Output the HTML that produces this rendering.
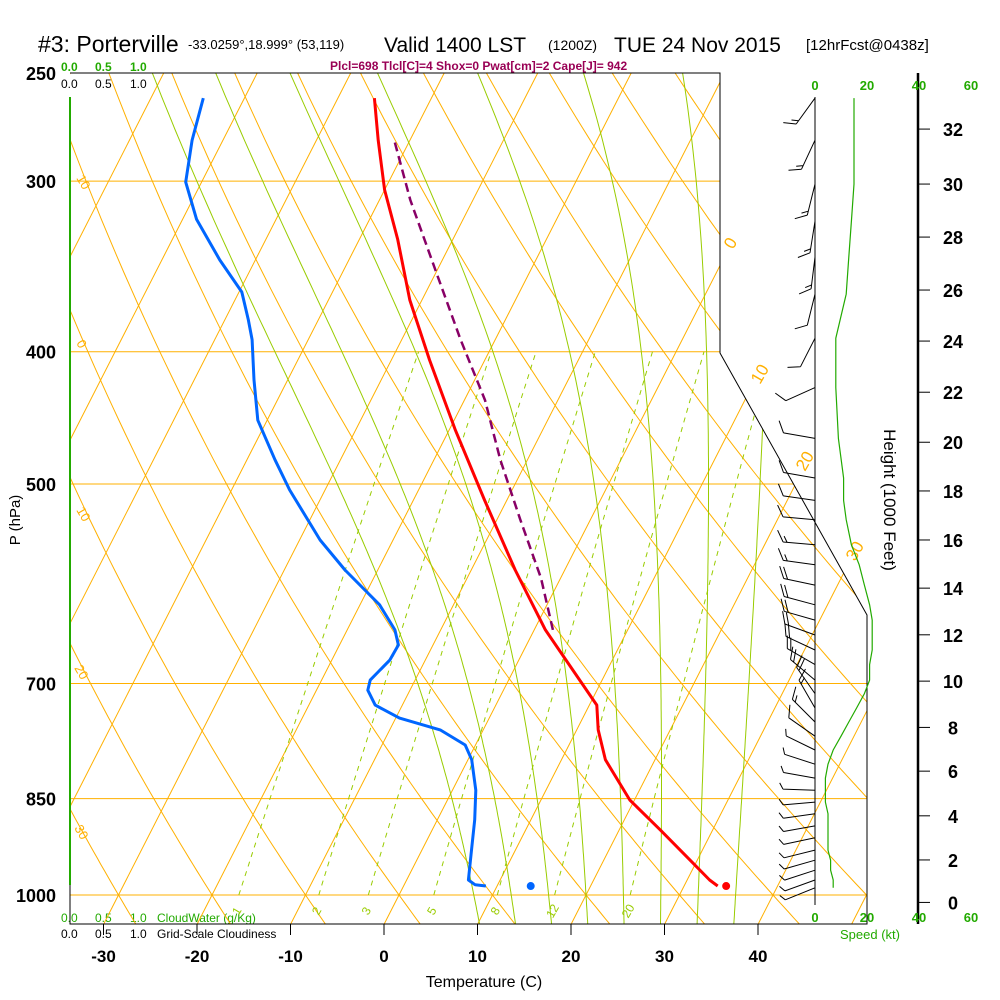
<!DOCTYPE html>
<html><head><meta charset="utf-8"><style>
html,body{margin:0;padding:0;background:#fff;}
svg{display:block;font-family:"Liberation Sans",sans-serif;}
</style></head><body>
<svg id="chart" width="1000" height="1000" viewBox="0 0 1000 1000" xmlns="http://www.w3.org/2000/svg">
<defs><clipPath id="plotclip"><polygon points="70,73 720,73 720,353 867,615 867,924 70,924"/></clipPath></defs>
<g>
<text x="38" y="52" font-size="23" fill="#000">#3: Porterville</text>
<text x="188" y="49" font-size="13" fill="#000">-33.0259°,18.999° (53,119)</text>
<text x="384" y="52" font-size="21" fill="#000">Valid 1400 LST</text>
<text x="548" y="50" font-size="14" fill="#000">(1200Z)</text>
<text x="614" y="52" font-size="21" fill="#000">TUE 24 Nov 2015</text>
<text x="806" y="50" font-size="15" fill="#000">[12hrFcst@0438z]</text>
<text x="330" y="70" font-size="12" font-weight="bold" fill="#990055">Plcl=698 Tlcl[C]=4 Shox=0 Pwat[cm]=2 Cape[J]= 942</text>
</g>
<g font-size="12">
<text x="61" y="71" fill="#22aa00" font-weight="bold">0.0</text>
<text x="95" y="71" fill="#22aa00" font-weight="bold">0.5</text>
<text x="130" y="71" fill="#22aa00" font-weight="bold">1.0</text>
<text x="61" y="88" fill="#000">0.0</text>
<text x="95" y="88" fill="#000">0.5</text>
<text x="130" y="88" fill="#000">1.0</text>
<text x="61" y="922" fill="#22aa00">0.0</text>
<text x="95" y="922" fill="#22aa00">0.5</text>
<text x="130" y="922" fill="#22aa00">1.0</text>
<text x="157" y="922" fill="#22aa00">CloudWater (g/Kg)</text>
<text x="61" y="938" fill="#000">0.0</text>
<text x="95" y="938" fill="#000">0.5</text>
<text x="130" y="938" fill="#000">1.0</text>
<text x="157" y="938" fill="#000">Grid-Scale Cloudiness</text>
</g>
<g id="bg" clip-path="url(#plotclip)"></g>
<g id="frame"></g>
<g id="axes"></g>
<g id="series"></g>
<g id="wind"></g>
<text x="0" y="0" font-size="15" transform="translate(20,520) rotate(-90)" text-anchor="middle">P (hPa)</text>
<text x="0" y="0" font-size="17" transform="translate(884,500) rotate(90)" text-anchor="middle">Height (1000 Feet)</text>
<text x="484" y="987" font-size="16" text-anchor="middle">Temperature (C)</text>
</svg>
<script>
// ---- data ----
const pressureTicks=[250,300,400,500,700,850,1000];
const tempTicks=[-30,-20,-10,0,10,20,30,40];
const tempP=[260.8,280,304.5,331,366.6,405.7,456,513.7,578,639.5,696,726,757,796,852,896,942.6,975,985];
const tempC=[-46.1,-43.4,-40.0,-35.9,-31.3,-25.9,-19.4,-12.4,-5.3,1.2,7.6,10.8,12.3,14.7,19.5,24.4,29.2,32.4,33.6];
const dewP=[260.8,280,300.5,320,342.7,361.7,379,392,419.5,449,480,505,549.5,578,613,639.5,656,673,686.5,696,708,726,742,757,776.5,796,838,881,927,975,983,985];
const dewC=[-64.4,-63.3,-61.7,-58.5,-53.8,-49.7,-47.5,-46.0,-43.6,-41.0,-37.0,-33.8,-27.8,-23.5,-17.9,-14.9,-13.7,-13.8,-14.4,-14.8,-14.5,-12.9,-9.6,-4.6,-1.1,0.4,2.5,4.0,5.3,6.6,7.6,8.8];
const parcelP=[639.5,586,531,480,434,392,348.5,309.7,281];
const parcelC=[2.0,-2.1,-7.5,-12.9,-17.8,-23.7,-30.2,-36.7,-41.5];
const sfcP=[985];
const sfcTemp=[34.5];
const sfcDew=[13.6];
const mixRatios=[1,2,3,5,8,12,20];
const moistStarts=[8,12,16,20,24,28,32,36];
const heightTicks=[0,2,4,6,8,10,12,14,16,18,20,22,24,26,28,30,32];
const heightP=[1012.6,942.6,875,811.5,753.8,697.2,644.8,596,549.5,505.9,466,428.3,392.9,360.5,329.7,301.5,274.8];
const windP=[260.8,280,301.5,321,341,363,391,425,463,495,514,531,554,573,593,613,629,645,661.5,678,696,712,729.5,747,765,783,802,821,838,855,872,890,908,927,943,959,975,988];
const windDir=[216,205,194,189,187,194,207,246,280,280,278,275,275,278,282,285,286,290,295,300,310,325,330,315,305,296,288,280,272,265,262,260,258,256,254,252,250,248];
const windSpd=[15,15,15,14,13,12,8,8,9,11,11,12,14,17,19,21,22,22,22,21,21,19,16,13,10,7,5,4,4,4,5,5,5,5,6,6,7,7];
const speedTicks=[0,20,40,60];

// ---- axes functions ----
const NS='http://www.w3.org/2000/svg';
function yP(p){return 73+822*Math.log(p/250)/Math.log(4);}
function xT(t,p){return 399+9.35*t+0.51*(895-yP(p));}
function xS(s){return 815+s*2.6;}
function mk(tag,attrs,parent){const e=document.createElementNS(NS,tag);for(const k in attrs)e.setAttribute(k,attrs[k]);parent.appendChild(e);return e;}
const bg=document.getElementById('bg'),frame=document.getElementById('frame'),axes=document.getElementById('axes'),series=document.getElementById('series'),wind=document.getElementById('wind');
const OR='#ffb000',GR='#99cc00';

pressureTicks.forEach(p=>{
  const l=mk('line',{x1:70,x2:867,y1:yP(p),y2:yP(p),stroke:OR,'stroke-width':1},bg);
  
  
});
for(let t=-130;t<=60;t+=10){
  const yb=924,yt=73;
  const x1=399+9.35*t+0.51*(895-yb),x2=399+9.35*t+0.51*(895-yt);
  const l=mk('line',{x1:x1,y1:yb,x2:x2,y2:yt,stroke:OR,'stroke-width':1},bg);
  
  
}
for(let th=-30;th<=220;th+=10){
  let pts=[];
  for(let p=1060;p>=245;p-=10){const t=(th+273.15)*Math.pow(p/1000,0.2857)-273.15;pts.push(xT(t,p).toFixed(1)+','+yP(p).toFixed(1));}
  const l=mk('polyline',{points:pts.join(' '),fill:'none',stroke:OR,'stroke-width':1},bg);
  
  
}
function esat(T){return 6.112*Math.exp(17.67*(T-273.15)/(T-29.65));}
function dTdp(T,p){const es=esat(T),rs=0.622*es/(p-es);return (287*T+2.5e6*rs)/(1005+2.5e6*2.5e6*rs*0.622/(287*T*T))/p;}
moistStarts.forEach(t0=>{
  let T=t0+273.15,p=1000,low=[];
  while(p<1060){T+=dTdp(T,p)*5;p+=5;low.push(xT(T-273.15,p).toFixed(1)+','+yP(p).toFixed(1));}
  low.reverse();
  T=t0+273.15;p=1000;let pts=[];
  while(p>=245){pts.push(xT(T-273.15,p).toFixed(1)+','+yP(p).toFixed(1));T-=dTdp(T,p)*5;p-=5;}
  const l=mk('polyline',{points:low.concat(pts).join(' '),fill:'none',stroke:GR,'stroke-width':1},bg);
  
  
});
mixRatios.forEach(w=>{
  let pts=[];
  for(let p=1000;p>=400;p-=10){const e=w*p/(622+w);const L=Math.log(e/6.112);const td=243.5*L/(17.67-L);pts.push(xT(td,p).toFixed(1)+','+yP(p).toFixed(1));}
  const l=mk('polyline',{points:pts.join(' '),fill:'none',stroke:GR,'stroke-width':1,'stroke-dasharray':'5,5'},bg);
  
  
  const e=w*1000/(622+w),L=Math.log(e/6.112),td=243.5*L/(17.67-L);
  const tx=mk('text',{x:xT(td,1000)-2,y:915,'font-size':12,fill:GR,'text-anchor':'middle',transform:'rotate(-60 '+(xT(td,1000)-2)+' 911)'},axes);
  tx.textContent=w;
  
  
});
[[733,250,'0'],[760,385,'10'],[805,472,'20'],[855,562,'30']].forEach(a=>{
  const t=mk('text',{x:a[0],y:a[1],'font-size':17,fill:OR,transform:'rotate(-60 '+a[0]+' '+a[1]+')'},axes);t.textContent=a[2];
  
  
});
[[76,178,'10'],[76,343,'0'],[76,510,'10'],[74,668,'20'],[74,828,'30']].forEach(a=>{
  const t=mk('text',{x:a[0],y:a[1],'font-size':13,fill:OR,transform:'rotate(60 '+a[0]+' '+a[1]+')'},axes);t.textContent=a[2];
  
  
});
const fr=mk('polyline',{points:'70,73 720,73 720,353 867,615 867,924 70,924 70,885',fill:'none',stroke:'#000','stroke-width':1},frame);


const cw=mk('line',{x1:70,y1:97,x2:70,y2:885,stroke:'#22aa00','stroke-width':2},frame);


pressureTicks.forEach(p=>{
  const t=mk('text',{x:56,y:yP(p)+7,'font-size':18,'font-weight':'bold','text-anchor':'end',fill:'#000'},axes);t.textContent=p;
  
  
});
tempTicks.forEach(tc=>{
  const x=384+9.35*tc;
  const l=mk('line',{x1:x,x2:x,y1:924,y2:935,stroke:'#000'},axes);
  
  
  const t=mk('text',{x:x,y:962,'font-size':17,'font-weight':'bold','text-anchor':'middle'},axes);t.textContent=tc;
  
  
});
function line(P,C,attrs,name){
  const pts=P.map((p,i)=>xT(C[i],p).toFixed(1)+','+yP(p).toFixed(1)).join(' ');
  const l=mk('polyline',Object.assign({points:pts,fill:'none','stroke-linejoin':'round'},attrs),series);
  
  
}
line(parcelP,parcelC,{stroke:'#880066','stroke-width':2.5,'stroke-dasharray':'9,5'},'parcel-line');
line(tempP,tempC,{stroke:'#ff0000','stroke-width':3},'temperature-line');
line(dewP,dewC,{stroke:'#0066ff','stroke-width':3},'dewpoint-line');
const d1=mk('circle',{cx:xT(sfcTemp[0],sfcP[0]),cy:yP(sfcP[0]),r:4,fill:'#ff0000'},series);


const d2=mk('circle',{cx:xT(sfcDew[0],sfcP[0]),cy:yP(sfcP[0]),r:4,fill:'#0066ff'},series);


const base=mk('line',{x1:815,y1:97,x2:815,y2:905,stroke:'#000'},wind);


const ha=mk('line',{x1:918,y1:73,x2:918,y2:924,stroke:'#000','stroke-width':2.5},wind);


heightTicks.forEach((h,i)=>{
  const y=yP(heightP[i]);
  const l=mk('line',{x1:918,x2:930,y1:y,y2:y,stroke:'#000'},wind);
  
  
  const t=mk('text',{x:953,y:y+7,'font-size':18,'font-weight':'bold','text-anchor':'middle'},wind);t.textContent=h;
  
  
});
speedTicks.forEach(s=>{
  [90,922].forEach(y=>{
    const t=mk('text',{x:xS(s),y:y,'font-size':13,'font-weight':'bold','text-anchor':'middle',fill:'#22aa00'},wind);t.textContent=s;
    
    
  });
});
const sl=mk('text',{x:870,y:939,'font-size':13,'text-anchor':'middle',fill:'#22aa00'},wind);sl.textContent='Speed (kt)';


const sp=mk('polyline',{points:windP.map((p,i)=>xS(windSpd[i]).toFixed(1)+','+yP(p).toFixed(1)).join(' '),fill:'none',stroke:'#22aa00','stroke-width':1.2},wind);


windP.forEach((p,i)=>{
  const y=yP(p),a=windDir[i]*Math.PI/180,L=32;
  const ux=Math.sin(a),uy=-Math.cos(a);
  const ex=815+ux*L,ey=y+uy*L;
  let d='M815,'+y.toFixed(1)+' L'+ex.toFixed(1)+','+ey.toFixed(1);
  const ang=Math.atan2(uy,ux)+Math.PI/3;
  let s=Math.round(windSpd[i]/5)*5,k=0;
  while(s>=10){const bx=ex-ux*k*4,by=ey-uy*k*4;d+=' M'+bx.toFixed(1)+','+by.toFixed(1)+' l'+(Math.cos(ang)*13).toFixed(1)+','+(Math.sin(ang)*13).toFixed(1);s-=10;k++;}
  if(s>=5){const bx=ex-ux*k*4,by=ey-uy*k*4;d+=' M'+bx.toFixed(1)+','+by.toFixed(1)+' l'+(Math.cos(ang)*7).toFixed(1)+','+(Math.sin(ang)*7).toFixed(1);}
  const b=mk('path',{d:d,fill:'none',stroke:'#000','stroke-width':1},wind);
  
  
});
</script>
</body></html>
